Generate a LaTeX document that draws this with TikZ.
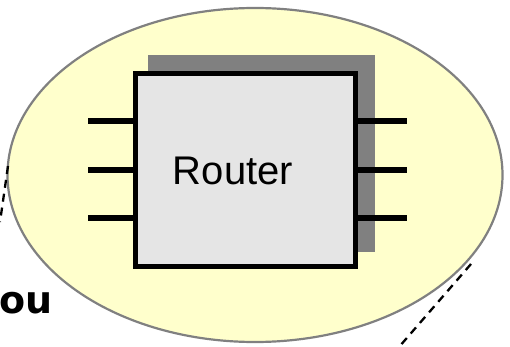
\documentclass[tikz,border=0pt]{standalone}
\usepackage{fontspec}
\usetikzlibrary{shapes.geometric}
\setmainfont{Liberation Sans}
\newfontfamily\oufont{DejaVu Sans}
\definecolor{ellfill}{HTML}{FFFFCC}
\definecolor{ellline}{HTML}{808080}
\definecolor{boxfill}{HTML}{E5E5E5}
\definecolor{shadowgray}{HTML}{808080}
\begin{document}
\begin{tikzpicture}[x=1pt,y=-1pt,
  cloud/.style={ellipse, draw=ellline, line width=2.2pt, fill=ellfill, minimum width=495pt, minimum height=334pt, inner sep=0pt},
  routerbox/.style={rectangle, draw=black, line width=5pt, fill=boxfill, minimum width=220pt, minimum height=192pt, inner sep=0pt},
  shadowbox/.style={rectangle, fill=shadowgray, minimum width=227pt, minimum height=197pt, inner sep=0pt},
  pin/.style={line width=6.5pt, black},
  dashline/.style={line width=2.3pt, dash pattern=on 8pt off 6pt}
]
\useasboundingbox (0,0) rectangle (510,347);
\node[cloud] (cloud) at (255,175) {};
\node[shadowbox] (shadow) at (261.5,153.5) {};
\node[routerbox] (router) at (245,170) {};
\node[font=\fontsize{40}{40}\selectfont] (label) at (233,171) {Router};
% pins
\foreach \i/\y in {1/121,2/170,3/218}{
  \coordinate (lp\i) at (88,\y);
  \coordinate (rp\i) at (407,\y);
  \draw[pin] (lp\i) -- (router.west |- lp\i);
  \draw[pin] (router.east |- rp\i) -- (rp\i);
}
\node[anchor=base west, inner sep=0pt, font=\oufont\bfseries\fontsize{38}{38}\selectfont] (ou) at (-1,313) {ou};
\coordinate (d1a) at (8,166);
\coordinate (d1b) at (0,222);
\draw[dashline] (d1a) -- (d1b);
\coordinate (d2a) at (471,264);
\coordinate (d2b) at (399,347);
\draw[dashline] (d2a) -- (d2b);
\end{tikzpicture}
\end{document}
